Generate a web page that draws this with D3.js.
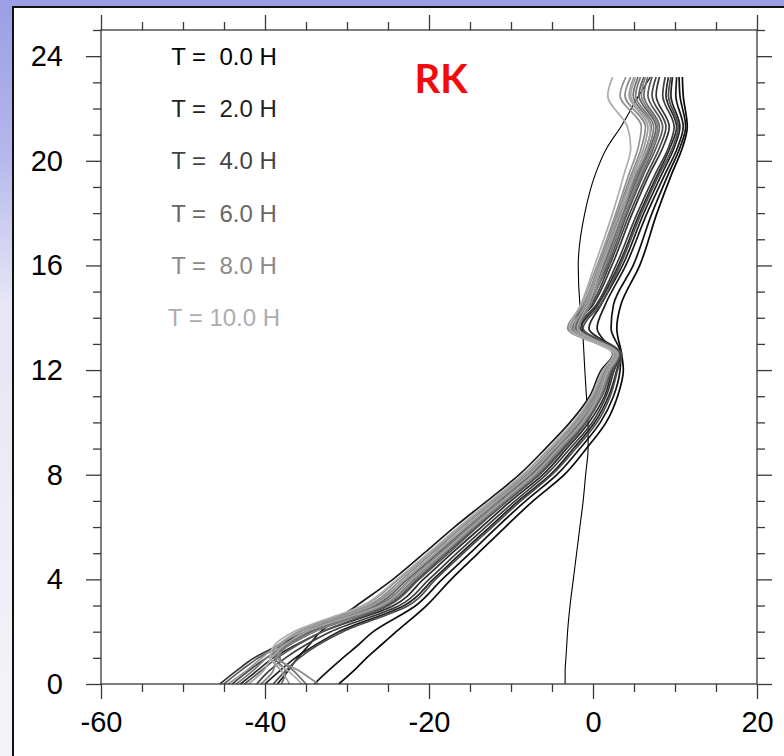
<!DOCTYPE html>
<html>
<head>
<meta charset="utf-8">
<script src="https://cdn.jsdelivr.net/npm/d3@7"></script>
<style>
  html, body { margin: 0; padding: 0; }
  body { width: 784px; height: 756px; overflow: hidden; }
  svg text { font-family: "Liberation Sans", Arial, sans-serif; }
</style>
</head>
<body>
<svg id="chart" width="784" height="756"></svg>
<script>
// heights of the profile levels (km)
const heights = [0, 0.5, 1, 1.5, 2, 3, 4, 5, 6, 7, 8, 9, 10, 11, 12, 12.6, 13.6, 14.5, 16, 18, 19.5, 20.5, 21.3, 22.5, 23.2];

// output times (hours)
const hours = [0, 0.5, 1, 1.5, 2, 2.5, 3, 3.5, 4, 4.5, 5, 5.5, 6, 6.5, 7, 7.5, 8, 8.5, 9, 9.5, 10];

// wind profile for each output time, one value per height level
const windU = [
  [-3.4, -3.4, -3.3, -3.2, -3.1, -2.8, -2.4, -2.0, -1.6, -1.2, -0.9, -0.6, -0.6, -0.8, -1.0, -1.1, -1.3, -1.6, -1.8, -1.0, 0.3, 1.7, 3.4, 5.6, 7.0],
  [-31, -29.2, -27.6, -25.8, -24, -20.3, -17.3, -14, -10.7, -7.3, -3.5, -0.8, 1.6, 3.0, 3.7, 3.5, 2.9, 3.4, 5.7, 7.8, 9.6, 10.9, 11.5, 11.0, 10.9],
  [-34, -32.3, -30.5, -28.6, -26.8, -21.6, -18.4, -15.0, -11.7, -8.2, -4.4, -1.6, 0.9, 2.5, 3.3, 3.4, 2.2, 2.5, 4.9, 7.2, 9.2, 10.6, 11.3, 10.6, 10.5],
  [-38.5, -37.2, -36, -34.6, -33.2, -28.8, -24.4, -20.6, -16.9, -12.9, -9.0, -5.8, -2.8, -0.4, 1.0, 2.4, 0.5, 1.5, 4.0, 6.6, 8.8, 10.3, 11.0, 10.1, 10.2],
  [-40, -38.2, -36.3, -33.8, -31, -23.0, -19.5, -16.1, -12.6, -9.1, -5.2, -2.4, 0.2, 1.9, 2.9, 3.4, -0.5, 1.0, 3.6, 6.2, 8.4, 9.9, 10.6, 9.5, 9.7],
  [-43, -41, -39, -36.2, -33, -24.3, -20.7, -17.2, -13.6, -10.0, -6.1, -3.2, -0.5, 1.4, 2.4, 3.2, -1.5, 0.6, 3.1, 5.7, 7.9, 9.4, 10.2, 8.9, 9.2],
  [-45.5, -43.5, -41.3, -38.2, -35, -26.1, -22.2, -18.5, -14.9, -11.1, -7.3, -4.2, -1.4, 0.7, 1.9, 2.9, -2.2, 0.0, 2.3, 4.8, 6.9, 8.5, 9.3, 7.7, 8.1],
  [-41, -39.5, -37.5, -35, -32, -23.6, -20.0, -16.6, -13.1, -9.5, -5.7, -2.8, -0.1, 1.6, 2.6, 3.3, -1.8, 0.4, 2.8, 5.4, 7.6, 9.2, 9.9, 8.5, 8.8],
  [-44, -42, -39.8, -37, -34, -25.2, -21.4, -17.9, -14.3, -10.5, -6.7, -3.7, -0.9, 1.0, 2.2, 3.1, -2.4, -0.2, 2.0, 4.5, 6.6, 8.1, 8.9, 7.2, 7.7],
  [-39, -37.5, -35.8, -33.5, -30.5, -22.5, -19.2, -15.8, -12.3, -8.8, -5.0, -2.1, 0.5, 2.1, 3.0, 3.5, -1.2, 0.9, 3.3, 5.9, 8.1, 9.7, 10.4, 9.2, 9.5],
  [-42.5, -40.5, -38.5, -36, -33, -24.9, -21.2, -17.6, -14.1, -10.4, -6.5, -3.5, -0.8, 1.1, 2.3, 3.2, -2.2, -0.5, 1.8, 4.2, 6.2, 7.7, 8.5, 6.7, 7.2],
  [-45, -43, -40.8, -37.8, -34.5, -26.5, -22.6, -18.9, -15.3, -11.5, -7.6, -4.5, -1.6, 0.5, 1.7, 2.8, -2.9, -0.8, 1.3, 3.7, 5.6, 7.0, 7.7, 5.6, 6.2],
  [-38, -37.5, -38.8, -37.2, -34.2, -25.6, -21.8, -18.2, -14.6, -10.8, -7.0, -4.0, -1.2, 0.8, 2.0, 3.0, -2.0, -0.4, 1.6, 4.0, 6.0, 7.4, 8.1, 6.2, 6.7],
  [-35, -36.5, -38.2, -37.4, -35, -27.0, -22.9, -19.2, -15.5, -11.6, -7.8, -4.7, -1.8, 0.3, 1.6, 2.7, -3.0, -1.0, 1.0, 3.4, 5.2, 6.5, 7.1, 4.9, 5.5],
  [-43.5, -41.5, -39.8, -37.5, -34.8, -26.2, -22.2, -18.6, -15.0, -11.2, -7.3, -4.3, -1.5, 0.6, 1.8, 2.9, -2.5, -0.7, 1.2, 3.6, 5.4, 6.8, 7.4, 5.2, 5.8],
  [-40.5, -39, -38.6, -37, -34, -25.5, -21.7, -18.1, -14.5, -10.7, -6.9, -3.9, -1.1, 0.9, 2.1, 3.1, -1.7, -0.3, 1.5, 3.9, 5.8, 7.2, 7.9, 5.9, 6.4],
  [-33.5, -35.8, -38.5, -38, -35.6, -27.4, -23.3, -19.6, -15.9, -12.0, -8.1, -5.0, -2.1, 0.1, 1.5, 2.6, -3.1, -1.2, 0.7, 3.0, 4.7, 5.9, 6.4, 3.9, 4.6],
  [-44.5, -42.3, -40.4, -38.4, -36, -27.9, -23.7, -19.9, -16.2, -12.3, -8.4, -5.3, -2.3, -0.1, 1.3, 2.5, -2.7, -1.4, 0.5, 2.8, 4.4, 5.5, 5.9, 3.3, 4.0],
  [-37, -38, -39.3, -38.3, -35.8, -26.9, -22.9, -19.2, -15.5, -11.7, -7.8, -4.7, -1.8, 0.4, 1.7, 2.8, -2.3, -0.9, 0.9, 3.2, 4.9, 6.2, 6.7, 4.4, 5.0],
  [-42, -40.2, -39.2, -37.6, -35, -25.9, -22.1, -18.4, -14.8, -11.0, -7.2, -4.2, -1.3, 0.7, 1.9, 3.0, -1.9, -0.6, 1.1, 3.5, 5.1, 6.6, 7.0, 4.6, 5.2],
  [-35.5, -37.2, -39.4, -38.8, -36.5, -28.1, -23.9, -20.1, -16.4, -12.5, -8.6, -5.4, -2.4, -0.2, 1.2, 2.5, -2.9, -1.5, 0.2, 2.4, 3.8, 4.6, 4.2, 1.8, 2.4]
];

// legend entries and axis ticks
const legendHours = [0, 2, 4, 6, 8, 10];
const xTicks = [-60, -40, -20, 0, 20];
const yTicks = [0, 4, 8, 12, 16, 20, 24];

const svg = d3.select('#chart');

// slide background
const defs = svg.append('defs');
const grad = defs.append('linearGradient')
    .attr('id', 'slideBg')
    .attr('x1', 0).attr('y1', 0).attr('x2', 0).attr('y2', 1);
grad.append('stop').attr('offset', '0%').attr('stop-color', '#9b9ee4');
grad.append('stop').attr('offset', '20%').attr('stop-color', '#b4b6ec');
grad.append('stop').attr('offset', '40%').attr('stop-color', '#e6e6f5');
grad.append('stop').attr('offset', '100%').attr('stop-color', '#f4f4f8');

svg.append('rect')
    .attr('width', 784).attr('height', 756)
    .attr('fill', 'url(#slideBg)');

// white picture frame
svg.append('rect')
    .attr('x', 13).attr('y', 7)
    .attr('width', 800).attr('height', 800)
    .attr('fill', '#fff')
    .attr('stroke', '#111')
    .attr('stroke-width', 2);

var x = d3.scaleLinear().domain([-60, 20]).range([101, 757]);
var y = d3.scaleLinear().domain([0, 25]).range([684, 30]);

var shade = d3.scaleLinear().domain([0, 10]).range(['#000000', '#adadad']);

var g = svg.append('g');

// profiles drawn in time order, later (lighter) ones over the earlier ones
var line = d3.line()
    .x(function (d) { return x(d[0]); })
    .y(function (d) { return y(d[1]); })
    .curve(d3.curveMonotoneY);

var profiles = hours.map(function (h, i) {
  return { hour: h, pts: windU[i].map(function (u, k) { return [u, heights[k]]; }) };
});

g.selectAll('path.profile')
    .data(profiles)
    .enter().append('path')
    .attr('class', 'profile')
    .attr('d', function (d) { return line(d.pts); })
    .attr('fill', 'none')
    .attr('stroke', function (d) { return shade(d.hour); })
    .attr('stroke-width', function (d) { return d.hour === 0 ? 1.1 : 1.7; });

// frame
svg.append('rect')
    .attr('x', x(-60)).attr('y', y(25))
    .attr('width', x(20) - x(-60)).attr('height', y(0) - y(25))
    .attr('fill', 'none')
    .attr('stroke', '#3a3a3a')
    .attr('stroke-width', 1.3);

var xMinor = d3.range(-60, 21, 5).filter(function (v) { return xTicks.indexOf(v) < 0; });
var yMinor = d3.range(0, 26, 1).filter(function (v) { return yTicks.indexOf(v) < 0; });

function drawAxis(axisFn, transform, values, size, labels) {
  var a = axisFn.tickValues(values).tickSize(size).tickSizeOuter(0).tickPadding(12);
  a.tickFormat(labels ? function (d) { return String(d); } : '');
  var ag = svg.append('g').attr('transform', transform).call(a);
  ag.select('.domain').remove();
  ag.selectAll('line').attr('stroke', '#3a3a3a').attr('stroke-width', 1.3);
  ag.selectAll('text')
      .attr('fill', '#000')
      .style('font-size', '29px');
  return ag;
}

drawAxis(d3.axisBottom(x), 'translate(0,' + y(0) + ')', xTicks, 15, true);
drawAxis(d3.axisBottom(x), 'translate(0,' + y(0) + ')', xMinor, 8, false);
drawAxis(d3.axisTop(x), 'translate(0,' + y(25) + ')', xTicks, 15, false);
drawAxis(d3.axisTop(x), 'translate(0,' + y(25) + ')', xMinor, 8, false);
var yl = drawAxis(d3.axisLeft(y), 'translate(' + x(-60) + ',0)', yTicks, 15, true);
yl.selectAll('text').attr('x', -38);
drawAxis(d3.axisLeft(y), 'translate(' + x(-60) + ',0)', yMinor, 8, false);
drawAxis(d3.axisRight(y), 'translate(' + x(20) + ',0)', yTicks, 15, false);
drawAxis(d3.axisRight(y), 'translate(' + x(20) + ',0)', yMinor, 8, false);

// legend: one label per two hours, placed down the upper left corner
svg.append('g').selectAll('text')
    .data(legendHours)
    .enter().append('text')
    .attr('x', x(-45))
    .attr('y', function (d, i) { return y(24 - 2 * i); })
    .attr('dy', '0.36em')
    .attr('text-anchor', 'middle')
    .attr('fill', function (d) { return shade(d); })
    .style('font-size', '24px')
    .style('white-space', 'pre')
    .text(function (d) { return d < 10 ? 'T =  ' + d.toFixed(1) + ' H' : 'T = ' + d.toFixed(1) + ' H'; });

svg.append('text')
    .attr('x', 441).attr('y', 93)
    .attr('text-anchor', 'middle')
    .attr('fill', '#f50a0a')
    .style('font-family', 'Lato, "Open Sans", sans-serif')
    .style('font-weight', 'bold')
    .style('font-size', '40px')
    .text('RK');
</script>
</body>
</html>
